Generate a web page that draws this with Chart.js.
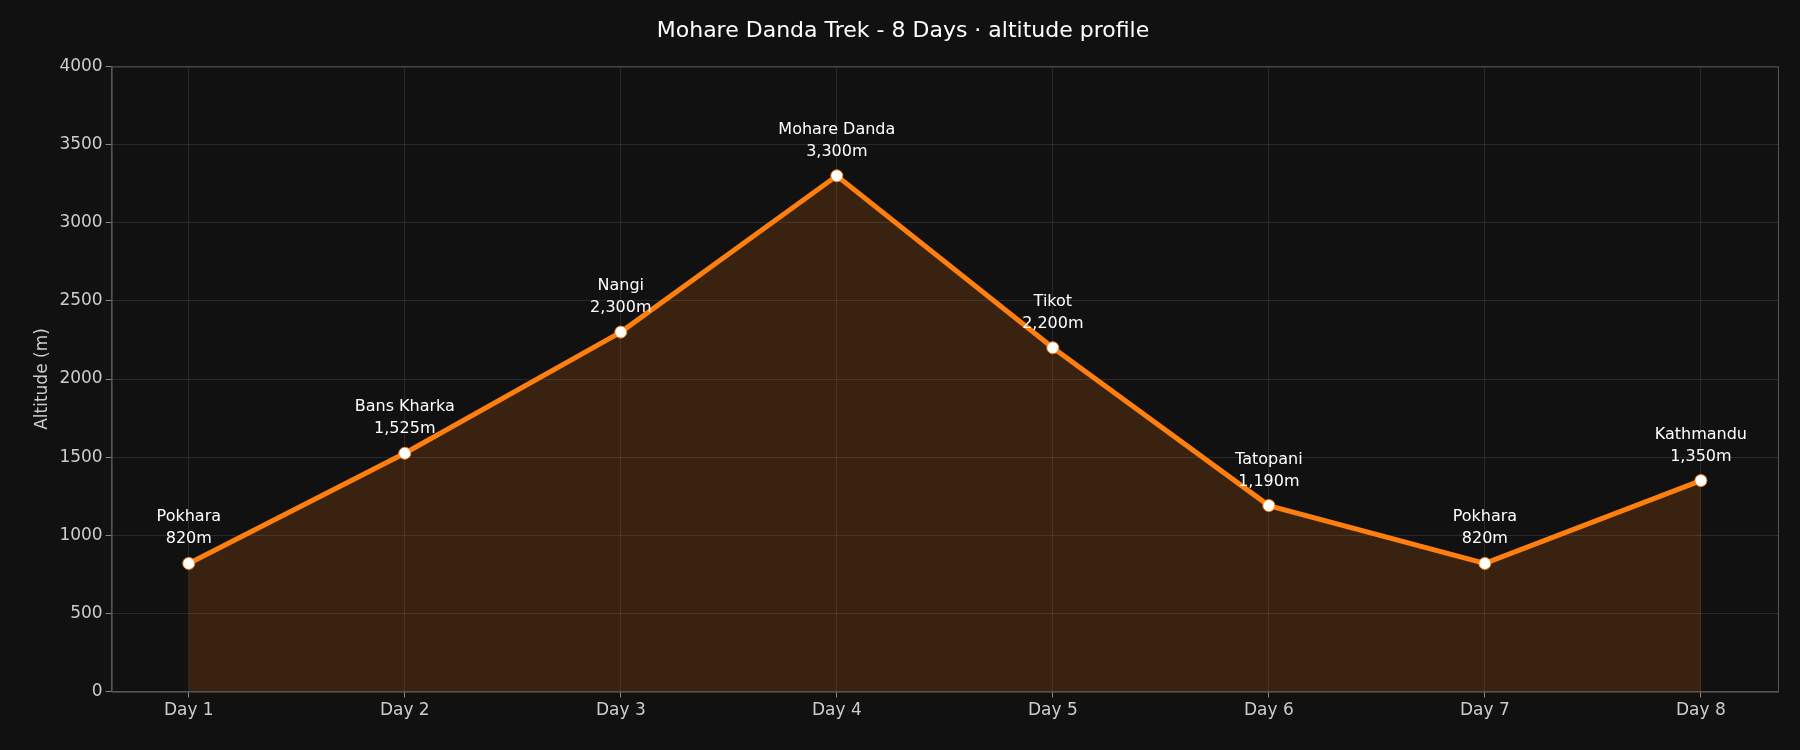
<!DOCTYPE html>
<html>
<head>
<meta charset="utf-8">
<script src="https://cdn.jsdelivr.net/npm/chart.js@4"></script>
<style>
html, body { margin: 0; padding: 0; background: #111111; }
#wrap { width: 1800px; height: 750px; }
</style>
</head>
<body>
<div id="wrap"><canvas id="myChartAltitude"></canvas></div>
<script>
var days = [1, 2, 3, 4, 5, 6, 7, 8];
var places = ['Pokhara', 'Bans Kharka', 'Nangi', 'Mohare Danda', 'Tikot', 'Tatopani', 'Pokhara', 'Kathmandu'];
var altitudes = [820, 1525, 2300, 3300, 2200, 1190, 820, 1350];

var pointLabels = {
    id: 'pointLabels',
    afterDatasetsDraw: function(chart) {
        var ctx = chart.ctx;
        var meta = chart.getDatasetMeta(0);
        var a = chart.chartArea;
        ctx.save();
        // frame around the plot
        ctx.strokeStyle = '#555555';
        ctx.lineWidth = 1;
        ctx.strokeRect(a.left + 0.5, a.top + 0.5, a.right - a.left, a.bottom - a.top);
        ctx.fillStyle = '#ffffff';
        ctx.font = '16px "DejaVu Sans"';
        ctx.textAlign = 'center';
        meta.data.forEach(function(pt, i) {
            ctx.fillText(places[i], pt.x, pt.y - 42);
            ctx.fillText(altitudes[i].toLocaleString('en-US') + 'm', pt.x, pt.y - 20);
        });
        ctx.restore();
    }
};

var ctx = document.getElementById('myChartAltitude').getContext('2d');
var myChartAltitude = new Chart(ctx, {
    type: 'line',
    data: {
        datasets: [{
            data: days.map(function(d, i) { return { x: d, y: altitudes[i] }; }),
            borderColor: '#ff7f0e',
            borderWidth: 5,
            backgroundColor: 'rgba(255,127,14,0.17)',
            fill: 'origin',
            tension: 0,
            pointRadius: 6,
            pointBackgroundColor: '#ffffff',
            pointBorderColor: '#ff7f0e',
            pointBorderWidth: 1
        }]
    },
    options: {
        responsive: true,
        maintainAspectRatio: false,
        animation: false,
        layout: { padding: { left: 28, right: 22, top: 6, bottom: 26 } },
        plugins: {
            legend: { display: false },
            tooltip: { enabled: false },
            title: {
                display: true,
                text: 'Mohare Danda Trek - 8 Days \u00b7 altitude profile',
                color: '#ffffff',
                font: { size: 22, family: 'DejaVu Sans', weight: 'normal' },
                padding: { top: 12, bottom: 22 }
            }
        },
        scales: {
            x: {
                type: 'linear',
                min: 0.643,
                max: 8.357,
                afterBuildTicks: function(axis) {
                    axis.ticks = days.map(function(d) { return { value: d }; });
                },
                ticks: {
                    color: '#cccccc',
                    font: { size: 17, family: 'DejaVu Sans' },
                    callback: function(v) { return 'Day ' + v; }
                },
                grid: { color: 'rgba(255,255,255,0.1)', tickColor: '#888888', tickLength: 6 },
                border: { color: '#555555' }
            },
            y: {
                min: 0,
                max: 4000,
                ticks: {
                    stepSize: 500,
                    color: '#cccccc',
                    font: { size: 17, family: 'DejaVu Sans' },
                    callback: function(v) { return String(v); }
                },
                title: {
                    display: true,
                    text: 'Altitude (m)',
                    color: '#cccccc',
                    font: { size: 17, family: 'DejaVu Sans' }
                },
                grid: { color: 'rgba(255,255,255,0.1)', tickColor: '#888888', tickLength: 6 },
                border: { color: '#555555' }
            }
        }
    },
    plugins: [pointLabels]
});
</script>
</body>
</html>
